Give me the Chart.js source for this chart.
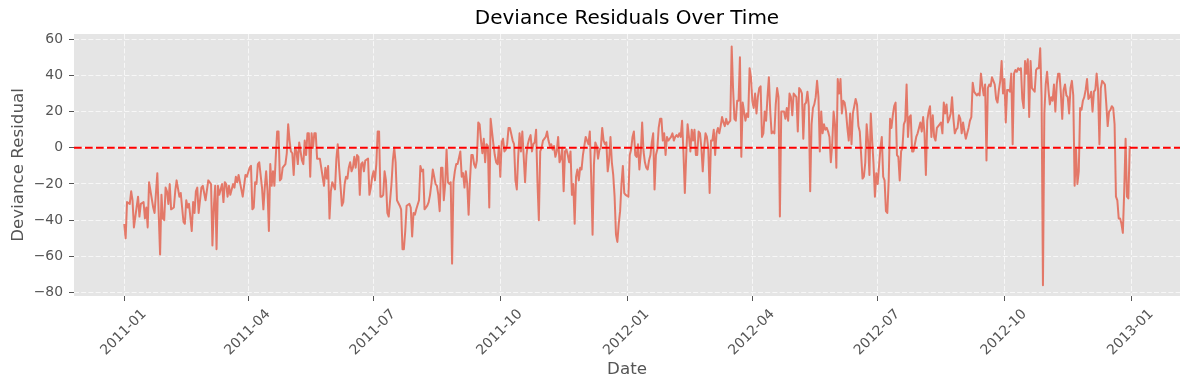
<!DOCTYPE html>
<html>
<head>
<meta charset="utf-8">
<title>Deviance Residuals Over Time</title>
<script src="https://cdn.jsdelivr.net/npm/chart.js@4.4.1/dist/chart.umd.min.js"></script>
<style>
  html, body { margin: 0; padding: 0; background: #ffffff; }
  #residualChart { display: block; }
</style>
</head>
<body>
<canvas id="residualChart" width="1189" height="390"></canvas>
<script>
// day offsets counted from 2011-01-01
const dayOffsets = [
  0, 1, 2, 4, 5, 6, 7, 10, 11, 12, 14, 15, 16, 17, 18, 21, 22, 24, 26, 27,
  28, 29, 30, 31, 32, 33, 34, 36, 37, 38, 40, 41, 43, 44, 45, 46, 47, 49, 50, 51,
  52, 53, 54, 56, 57, 59, 61, 63, 64, 65, 66, 67, 68, 69, 71, 72, 73, 74, 75, 76,
  77, 79, 80, 81, 82, 83, 85, 86, 88,
  89, 91, 92, 93, 94, 95, 96, 97, 98, 100, 101, 102, 103, 104, 105, 106, 107, 108, 109, 110,
  111, 112, 113, 114, 115, 117, 118, 119, 120, 121, 122, 123, 124, 125, 126, 127, 128, 129, 130, 131,
  132, 133, 134, 135, 136, 137, 138, 139, 140, 142, 143, 144, 145, 146, 147, 148, 149, 150, 151, 153,
  154, 155, 156, 157, 158, 159, 160, 161, 162, 163, 164, 165, 166, 167, 168, 169, 170, 171, 172, 173,
  174, 175, 177, 178, 179,
  180, 181, 182, 183, 184, 185, 186, 187, 188, 189, 190, 191, 192, 194, 195, 196, 197, 198, 200, 201,
  202, 203, 204, 205, 207, 208, 209, 210, 211, 212, 214, 215, 216, 217, 218, 219, 220, 221, 222, 223,
  224, 225, 226, 227, 228, 229, 230, 231, 232, 233, 234, 235, 236, 237, 238, 239, 240, 241, 242, 244,
  245, 246, 247, 248, 249, 250, 251, 252, 253, 254, 255, 256, 257, 258, 259, 260, 261, 262, 263, 264,
  265, 266, 267, 268, 269, 270,
  271, 272, 273, 274, 275, 276, 277, 278, 279, 280, 282, 283, 284, 285, 286, 287, 288, 289, 290, 291,
  292, 293, 294, 295, 296, 297, 298, 299, 300, 301, 302, 303, 304, 306, 307, 308, 309, 310, 311, 312,
  313, 314, 315, 316, 317, 318, 319, 320, 321, 322, 323, 324, 325, 326, 327, 328, 329, 330, 331, 332,
  333, 334, 335, 336, 337, 338, 339, 340, 341, 342, 343, 344, 345, 346, 347, 348, 349, 350, 351, 352,
  353, 354, 355, 356, 357, 358,
  359, 360, 361, 362, 363, 364, 366, 367, 368, 369, 370, 371, 372, 373, 374, 375, 376, 377, 378, 379,
  380, 381, 382, 383, 384, 385, 386, 387, 388, 389, 390, 391, 392, 393, 394, 395, 396, 397, 398, 399,
  400, 401, 402, 403, 404, 405, 406, 407, 408, 409, 410, 411, 412, 413, 414, 415, 416, 417, 418, 419,
  420, 421, 422, 423, 424, 425, 426, 427, 428, 429, 430, 431, 432, 433, 434, 435, 436, 437, 438, 439,
  440, 441, 442, 443, 444, 445, 446, 447, 448, 449,
  450, 451, 452, 453, 454, 455, 456, 457, 458, 459, 460, 461, 462, 463, 464, 465, 466, 467, 468, 469,
  470, 471, 472, 473, 474, 475, 476, 477, 478, 479, 480, 481, 482, 483, 484, 485, 486, 487, 488, 489,
  490, 491, 492, 493, 494, 495, 496, 497, 498, 499, 500, 501, 502, 503, 504, 505, 506, 507, 508, 509,
  510, 511, 512, 513, 514, 515, 516, 517, 518, 519, 520, 521, 522, 523, 524, 525, 526, 527, 528, 529,
  530, 531, 532, 533, 534, 535, 536, 537, 538, 539, 540,
  541, 542, 543, 544, 545, 546, 547, 548, 549, 550, 551, 552, 553, 554, 555, 556, 557, 558, 559, 560,
  561, 562, 563, 564, 565, 566, 567, 568, 569, 570, 571, 572, 573, 574, 575, 576, 577, 578, 579, 580,
  581, 582, 583, 584, 585, 586, 587, 588, 589, 590, 591, 592, 593, 594, 595, 596, 597, 598, 599, 600,
  601, 602, 603, 604, 605, 606, 607, 608, 609, 610, 611, 612, 613, 614, 615, 616, 617, 618, 619, 620,
  621, 622, 623, 624, 625, 626, 627, 628, 629, 630, 631, 632,
  633, 634, 635, 636, 637, 638, 639, 640, 641, 642, 643, 644, 645, 646, 647, 648, 649, 650, 651, 652,
  653, 654, 655, 656, 657, 658, 659, 660, 661, 662, 663, 664, 665, 666, 667, 668, 669, 670, 671, 672,
  673, 674, 675, 676, 677, 678, 679, 680, 681, 682, 683, 684, 685, 686, 687, 688, 689, 690, 691, 692,
  693, 694, 695, 696, 697, 698, 699, 700, 701, 702, 703, 704, 705, 706, 707, 708, 709, 710, 711, 712,
  713, 714, 715, 716, 717, 718, 719, 720, 721, 722, 723, 724, 725, 726, 727, 728, 729, 730,
];

const residuals = [
  -42, -50, -30, -31, -24, -29, -44, -27, -38, -31, -30, -39, -33, -44, -19, -33, -36, -14, -59, -26,
  -39, -40, -22, -24, -31, -20, -34, -33, -24, -18, -27, -25, -41, -42, -29, -33, -31, -46, -30, -36,
  -24, -22, -36, -22, -21, -29, -18, -20, -54, -33, -21, -56, -21, -26, -20, -30, -19, -20, -27, -21,
  -26, -20, -22, -16, -19, -15, -23, -27, -15,
  -16, -11, -10, -34, -33, -19, -20, -9, -8, -22, -34, -22, -13, -24, -46, -9, -21, -13, -21, -5,
  9, 9, -18, -17, -11, -9, -3, 13, 4, -2, -3, -15, 0, -2, -9, 3, -2, -7, -9, 4,
  -4, 8, 8, -16, 8, 0, 8, 8, -6, -6, -11, -16, -21, -11, -17, -10, -39, -24, -19, -23,
  -6, 2, -11, -21, -32, -30, -20, -16, -17, -11, -8, -13, -11, -5, -11, -4, -5, -26, -9, -8,
  -13, -7, -6, -26, -22,
  -16, -13, -18, -9, 9, 9, -27, -27, -26, -13, -18, -36, -38, -20, -7, 0, -8, -29, -32, -34,
  -56, -56, -46, -32, -31, -33, -49, -36, -37, -34, -29, -10, -13, -12, -34, -33, -32, -30, -26, -20,
  -12, -16, -20, -21, -26, -35, -11, -11, -29, -20, -1, -19, -20, -19, -64, -19, -13, -9, -9, -2,
  -16, -14, -22, -13, -20, -37, -18, -4, -4, -9, -11, -7, 14, 13, 4, -3, 5, -8, 2, 1,
  -33, 16, 9, 2, -4, -8,
  -9, 1, -16, 3, 5, -2, -1, 2, 11, 11, 4, 2, -18, -23, -5, 8, -2, 9, -5, -19,
  -4, 2, 5, 7, -2, 2, 3, 10, -19, -40, -2, 0, 4, 6, 9, 4, 1, 2, -1, 1,
  -5, -2, 6, -8, -6, 0, -24, -2, -1, -4, -8, -2, -26, -20, -42, -16, -12, -18, -11, -12,
  -4, 1, 6, 4, 2, 9, -16, -48, -9, 3, 1, -6, -1, 0, 11, 4, 2, 3, -13, -7,
  6, -8, -15, -27, -48, -52,
  -42, -35, -20, -10, -25, -26, -27, -4, -1, 6, 9, -4, -5, 2, -12, -3, 14, -2, -8, -11,
  -12, -7, -4, 3, 8, -23, -4, -1, 11, 16, 16, 4, 8, -4, 6, 4, 5, 6, 8, 4,
  6, 7, 6, 8, 6, 15, -3, -25, -4, 13, 6, -2, 10, 4, 10, -4, -4, 9, 8, 0,
  -13, 0, 8, 6, 0, -25, 4, 4, 10, -4, 8, 11, 8, 12, 17, 14, 12, 16, 13, 14,
  15, 56, 33, 16, 15, 26, 26, 50, -5, 25,
  20, 15, 19, 17, 44, 39, 26, 22, 30, 19, 28, 33, 34, 6, 8, 20, 15, 28, 39, 20,
  8, 9, 8, 24, 33, 28, -38, 20, 20, 20, 16, 22, 15, 30, 28, 18, 30, 29, 28, 9,
  33, 32, 30, 5, 24, 25, 31, 23, -24, 13, 22, 24, 28, 37, 28, -2, 20, 8, 13, 10,
  11, 9, 6, -8, 2, 20, 13, -11, 38, 30, 38, 19, 26, 25, 20, 11, 4, 19, 2, 19,
  23, 27, 24, 12, 9, -4, -17, -16, -8, 13, 4,
  -15, 19, 4, -9, -27, -14, -20, -10, 0, 6, -16, -18, -35, -36, -18, 16, 11, 18, 23, 25,
  -4, -5, -18, -2, 0, 13, 15, 35, 6, 17, 18, -2, -2, 2, 6, 8, 11, 14, 9, 17,
  8, -15, 15, 20, 23, 6, 18, 6, 4, 11, 12, 13, 14, 8, 25, 19, 24, 14, 16, 19,
  28, 16, 8, 10, 11, 18, 16, 8, 14, 9, 5, 8, 11, 15, 17, 36, 31, 30, 29, 30,
  29, 41, 34, 29, 35, -7, 33, 35, 34, 39, 37, 35,
  27, 25, 32, 37, 48, 30, 38, 14, 32, 32, 31, 41, 2, 41, 43, 42, 44, 43, 44, 27,
  22, 48, 41, 49, 17, 48, 33, 32, 31, 43, 44, 44, 55, 28, -76, 19, 35, 42, 32, 24,
  28, 26, 35, 20, 35, 41, 41, 30, 16, 32, 35, 29, 28, 19, 33, 37, 29, -21, -1, -20,
  -13, 22, 21, 26, 28, 32, 38, 27, 28, 31, 20, 31, 32, 41, 32, 2, 33, 37, 36, 35,
  24, 12, 20, 21, 23, 22, 13, -27, -29, -39, -39, -42, -47, -24, 5, -27, -28, 1,
];

const tickDays = [0, 90, 181, 273, 365, 456, 547, 639, 731];
const tickLabels = [
  "2011-01", "2011-04", "2011-07", "2011-10",
  "2012-01", "2012-04", "2012-07", "2012-10", "2013-01",
];
const yTicks = [-80, -60, -40, -20, 0, 20, 40, 60];
const referenceLevel = 0;

const xMin = -36.5;
const xMax = 766.5;

Chart.defaults.font.family = "'DejaVu Sans', sans-serif";

const plotBackground = {
  id: "plotBackground",
  beforeDraw(chart) {
    const { ctx, chartArea } = chart;
    ctx.save();
    ctx.fillStyle = "#E5E5E5";
    ctx.fillRect(chartArea.left, chartArea.top, chartArea.width, chartArea.height);
    ctx.restore();
  },
};

function minusLabel(v) {
  return v < 0 ? "\u2212" + Math.abs(v) : String(v);
}

const points = dayOffsets.map((d, i) => ({ x: d, y: residuals[i] }));

const gridStyle = {
  color: "rgba(255,255,255,0.7)",
  lineWidth: 1,
  tickLength: 5,
  tickColor: "#555555",
  tickWidth: 1,
  tickBorderDash: [],
};

new Chart(document.getElementById("residualChart"), {
  type: "line",
  data: {
    datasets: [
      {
        label: "Deviance Residual",
        data: points,
        borderColor: "rgba(226,74,51,0.7)",
        borderWidth: 2,
        borderJoinStyle: "round",
        pointRadius: 0,
        tension: 0,
        order: 1,
      },
      {
        label: "zero",
        data: [
          { x: xMin, y: referenceLevel },
          { x: xMax, y: referenceLevel },
        ],
        borderColor: "#ff0000",
        borderWidth: 2,
        borderDash: [7.7, 3.3],
        pointRadius: 0,
        order: 0,
      },
    ],
  },
  options: {
    responsive: false,
    devicePixelRatio: 1,
    animation: false,
    layout: { padding: { left: 0, right: 9, top: 0, bottom: 0 } },
    plugins: {
      legend: { display: false },
      tooltip: { enabled: false },
      title: {
        display: true,
        fullSize: false,
        text: "Deviance Residuals Over Time",
        color: "#000000",
        font: { size: 20, weight: "normal" },
        padding: { top: 7, bottom: 3 },
      },
    },
    scales: {
      x: {
        type: "linear",
        min: xMin,
        max: xMax,
        afterBuildTicks: (scale) => {
          scale.ticks = tickDays.map((v) => ({ value: v }));
        },
        afterFit: (scale) => {
          scale.height = 94;
        },
        ticks: {
          autoSkip: false,
          minRotation: 45,
          maxRotation: 45,
          labelOffset: 20,
          padding: 5,
          color: "#555555",
          font: { size: 13.9 },
          callback: (value, index) => tickLabels[index],
        },
        grid: gridStyle,
        border: { display: false, dash: [5, 2.2] },
        title: {
          display: true,
          text: "Date",
          color: "#555555",
          font: { size: 16.7 },
          padding: { top: 0, bottom: 10.8 },
        },
      },
      y: {
        type: "linear",
        min: -81.9,
        max: 62.9,
        afterBuildTicks: (scale) => {
          scale.ticks = yTicks.map((v) => ({ value: v }));
        },
        afterFit: (scale) => {
          scale.width = 74;
        },
        ticks: {
          padding: 6,
          color: "#555555",
          font: { size: 13.9 },
          callback: (value) => minusLabel(value),
        },
        grid: gridStyle,
        border: { display: false, dash: [5, 2.2] },
        title: {
          display: true,
          text: "Deviance Residual",
          color: "#555555",
          font: { size: 16.7 },
          padding: { top: 8.2, bottom: 0 },
        },
      },
    },
  },
  plugins: [plotBackground],
});
</script>
</body>
</html>
